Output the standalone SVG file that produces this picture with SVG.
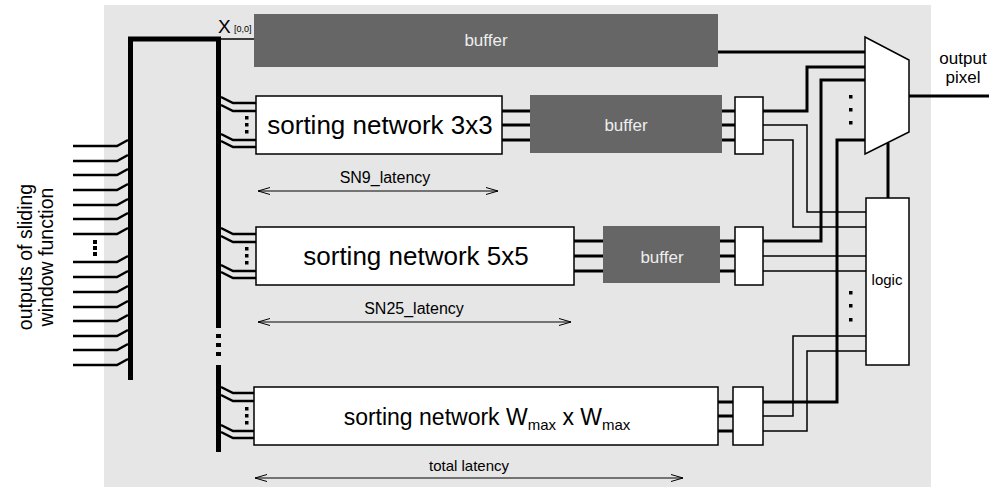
<svg xmlns="http://www.w3.org/2000/svg" width="998" height="493" viewBox="0 0 998 493">
<defs>
<style>
.bg{fill:#e6e6e6}
.wbox{fill:#fff;stroke:#000;stroke-width:1.5}
.buf{fill:#666}
.bus{fill:none;stroke:#000;stroke-width:5}
.thick{fill:none;stroke:#000;stroke-width:3}
.thin{fill:none;stroke:#000;stroke-width:1.5}
.in{fill:none;stroke:#000;stroke-width:2.5}
.dim{fill:none;stroke:#000;stroke-width:1}
.t{font-family:"Liberation Sans",Arial,sans-serif;fill:#000}
.bt{font-family:"Liberation Sans",Arial,sans-serif;fill:#eee;font-size:17px;text-anchor:middle}
.dot{fill:#000}
</style>
<marker id="ah" viewBox="0 0 12 8" refX="12" refY="4" markerWidth="12" markerHeight="8" markerUnits="userSpaceOnUse" orient="auto-start-reverse">
<path d="M0,0.5 L12,4 L0,7.5" fill="none" stroke="#000" stroke-width="1"/>
</marker>
</defs>
<rect class="bg" x="104" y="5" width="827" height="482"/>

<g id="inputs-label">
<text class="t" font-size="19.5" text-anchor="middle" transform="translate(32,257) rotate(-90)">outputs of sliding</text>
<text class="t" font-size="19.5" text-anchor="middle" transform="translate(53,257) rotate(-90)">window function</text>
</g>

<g id="connectors">
<!-- input lines -->
<path class="in" d="M73,146H117L128,140 M73,161H117L128,155 M73,175H117L128,169 M73,190H117L128,184 M73,205H117L128,199 M73,219H117L128,213 M73,234H117L128,228 M73,262H117L128,256 M73,277H117L128,271 M73,292H117L128,286 M73,307H117L128,301 M73,321H117L128,315 M73,336H117L128,330 M73,350H117L128,344 M73,365H117L128,359"/>
<rect class="dot" x="93" y="240" width="4" height="4"/>
<rect class="dot" x="93" y="246" width="4" height="4"/>
<rect class="dot" x="93" y="252" width="4" height="4"/>
<!-- bus -->
<path class="bus" d="M130.5,380V39H218.5V328"/>
<path class="bus" d="M218.5,365V452"/>
<rect class="dot" x="216" y="334" width="5" height="4"/>
<rect class="dot" x="216" y="343" width="5" height="4"/>
<rect class="dot" x="216" y="352" width="5" height="4"/>
<path class="thin" d="M221,39H254"/>
<!-- bus to SN3x3 -->
<path class="in" d="M221,97L233,103H256 M221,105L233,111H256 M221,134L233,140H256 M221,141L233,147H256"/>
<rect class="dot" x="245" y="116" width="3.5" height="3.5"/>
<rect class="dot" x="245" y="123" width="3.5" height="3.5"/>
<rect class="dot" x="245" y="130" width="3.5" height="3.5"/>
<!-- bus to SN5x5 -->
<path class="in" d="M221,228L233,234H256 M221,236L233,242H256 M221,265L233,271H256 M221,272L233,278H256"/>
<rect class="dot" x="245" y="247" width="3.5" height="3.5"/>
<rect class="dot" x="245" y="254" width="3.5" height="3.5"/>
<rect class="dot" x="245" y="261" width="3.5" height="3.5"/>
<!-- bus to SNWmax -->
<path class="in" d="M221,387L233,393H256 M221,395L233,401H256 M221,425L233,431H256 M221,432L233,438H256"/>
<rect class="dot" x="245" y="407" width="3.5" height="3.5"/>
<rect class="dot" x="245" y="414" width="3.5" height="3.5"/>
<rect class="dot" x="245" y="421" width="3.5" height="3.5"/>
<!-- SN3x3 to buffer to box1 -->
<path class="thick" d="M502,111H530 M502,125H530 M502,140H530 M722,111H735 M722,125H735 M722,140H735"/>
<!-- SN5x5 to buffer to box2 -->
<path class="thick" d="M574,241H603 M574,256H603 M574,271H603 M720,241H735 M720,256H735 M720,271H735"/>
<!-- SNWmax to box3 -->
<path class="thick" d="M718,402H733 M718,416H733 M718,431H733"/>
<!-- top buffer to mux -->
<path class="thick" d="M718,52H865"/>
<!-- thick to mux -->
<path class="thick" d="M763,111H807V67H865"/>
<path class="thick" d="M763,241H821V80H865"/>
<path class="thick" d="M763,402H837V140H865"/>
<!-- thin to logic -->
<path class="thin" d="M763,125H807V212H866"/>
<path class="thin" d="M763,140H793V227H866"/>
<path class="thin" d="M763,256H866"/>
<path class="thin" d="M763,271H866"/>
<path class="thin" d="M763,416H793V336H866"/>
<path class="thin" d="M763,431H807V351H866"/>
<!-- select -->
<path class="thick" d="M888,143V198"/>
<!-- output -->
<path class="thick" d="M909,96H989"/>
<rect class="dot" x="849" y="95" width="3.5" height="3.5"/>
<rect class="dot" x="849" y="108" width="3.5" height="3.5"/>
<rect class="dot" x="849" y="121" width="3.5" height="3.5"/>
<rect class="dot" x="849" y="291" width="3.5" height="3.5"/>
<rect class="dot" x="849" y="304" width="3.5" height="3.5"/>
<rect class="dot" x="849" y="318" width="3.5" height="3.5"/>
<!-- latency dims -->
<path class="dim" d="M258,191H498" marker-start="url(#ah)" marker-end="url(#ah)"/>
<path class="dim" d="M258,322H571" marker-start="url(#ah)" marker-end="url(#ah)"/>
<path class="dim" d="M255,478H683" marker-start="url(#ah)" marker-end="url(#ah)"/>
</g>

<g id="x00">
<text class="t" x="218" y="33" font-size="19">X</text>
<text class="t" x="234" y="32" font-size="9">[0,0]</text>
</g>

<g id="buffer-top">
<rect class="buf" x="254" y="14" width="464" height="53"/>
<text class="bt" x="486" y="46">buffer</text>
</g>

<g id="sn3x3">
<rect class="wbox" x="256" y="96" width="246" height="58"/>
<text class="t" x="380" y="134" font-size="26" text-anchor="middle">sorting network 3x3</text>
</g>
<g id="buffer-1">
<rect class="buf" x="530" y="95" width="192" height="58"/>
<text class="bt" x="626" y="131">buffer</text>
</g>
<g id="box1"><rect class="wbox" x="735" y="97" width="28" height="57"/></g>

<g id="sn5x5">
<rect class="wbox" x="256" y="227" width="318" height="58"/>
<text class="t" x="416" y="265" font-size="26" text-anchor="middle">sorting network 5x5</text>
</g>
<g id="buffer-2">
<rect class="buf" x="603" y="226" width="117" height="57"/>
<text class="bt" x="662" y="263">buffer</text>
</g>
<g id="box2"><rect class="wbox" x="735" y="227" width="28" height="58"/></g>

<g id="snwmax">
<rect class="wbox" x="254" y="387" width="464" height="58"/>
<text class="t" x="487" y="425" font-size="23" text-anchor="middle">sorting network W<tspan font-size="15" dy="5">max</tspan><tspan dy="-5"> x W</tspan><tspan font-size="15" dy="5">max</tspan></text>
</g>
<g id="box3"><rect class="wbox" x="733" y="387" width="30" height="58"/></g>

<g id="mux">
<path class="wbox" d="M865,37L909,60V132L865,154Z"/>
</g>

<g id="logic">
<rect class="wbox" x="866" y="198" width="43" height="167"/>
<text class="t" x="887" y="285" font-size="15" text-anchor="middle">logic</text>
</g>

<g id="output-label">
<text class="t" x="963" y="64" font-size="17" text-anchor="middle">output</text>
<text class="t" x="963" y="83" font-size="17" text-anchor="middle">pixel</text>
</g>

<g id="latency-labels">
<text class="t" x="385" y="183" font-size="16" text-anchor="middle">SN9_latency</text>
<text class="t" x="414" y="314" font-size="16" text-anchor="middle">SN25_latency</text>
<text class="t" x="469" y="471" font-size="15" text-anchor="middle">total latency</text>
</g>
</svg>
